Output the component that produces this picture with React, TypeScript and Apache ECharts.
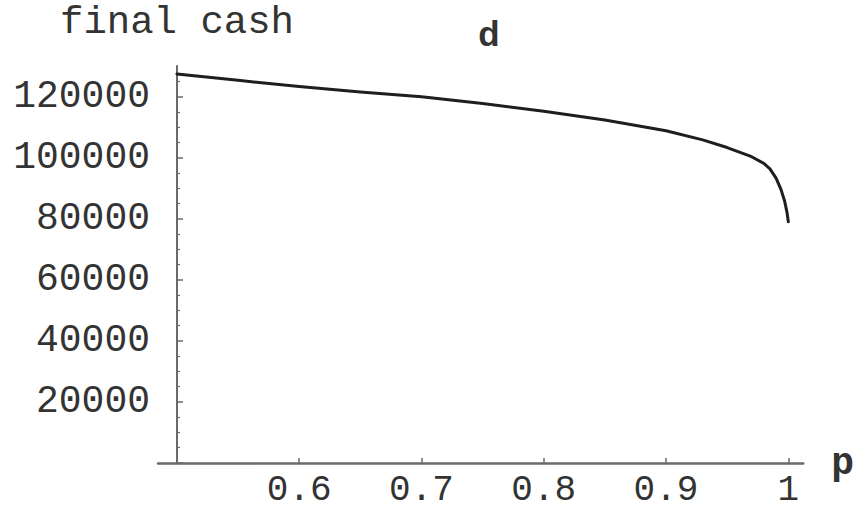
import React, { useEffect, useRef } from "react";
import * as echarts from "echarts";

// p values (x) and final cash (y)
const pValues = [0.5, 0.55, 0.6, 0.65, 0.7, 0.75, 0.8, 0.85, 0.9, 0.93, 0.95, 0.97, 0.98, 0.985, 0.99, 0.994, 0.997, 0.999, 1.0];
const cashValues = [127400, 125300, 123300, 121500, 119900, 117700, 115200, 112300, 108800, 105800, 103300, 100300, 98100, 96300, 93300, 89600, 85800, 82000, 79000];

const xTicks = [0.6, 0.7, 0.8, 0.9, 1];
const yMajorTicks = [0, 20000, 40000, 60000, 80000, 100000, 120000];
const yLabelTicks = [20000, 40000, 60000, 80000, 100000, 120000];
const yMinorTicks = [5000, 10000, 15000, 25000, 30000, 35000, 45000, 50000, 55000, 65000, 70000, 75000, 85000, 90000, 95000, 105000, 110000, 115000, 125000];

const MONO = "'Liberation Mono', 'DejaVu Sans Mono', monospace";
const AXIS_COLOR = "#6a6a6a";
const TEXT_COLOR = "#333";

export default function App() {
  const ref = useRef<HTMLDivElement>(null);
  useEffect(() => {
    if (!ref.current) return;
    const chart = echarts.init(ref.current, null, { renderer: "svg" });
    const data = pValues.map((p, i) => [p, cashValues[i]]);
    chart.setOption({
      animation: false,
      backgroundColor: "#fff",
      title: {
        text: "d",
        left: 484,
        top: 11,
        textAlign: "center",
        textStyle: { fontFamily: "'Liberation Sans', Arial, sans-serif", fontSize: 35, fontWeight: "bold", color: TEXT_COLOR },
      },
      grid: { left: 158, right: 52, top: 66, bottom: 47, containLabel: false },
      xAxis: {
        type: "value",
        min: 0.4845,
        max: 1.0122,
        name: "p",
        nameLocation: "end",
        nameGap: 28,
        nameTextStyle: { fontFamily: MONO, fontSize: 38, color: TEXT_COLOR, fontWeight: "bold", verticalAlign: "middle" },
        axisLine: { show: true, lineStyle: { color: AXIS_COLOR, width: 2.5 } },
        axisTick: { show: true, inside: true, length: 5, customValues: xTicks, lineStyle: { color: AXIS_COLOR, width: 1.5 } },
        axisLabel: {
          customValues: xTicks,
          margin: 9,
          lineHeight: 36,
          fontFamily: MONO,
          fontSize: 36,
          color: TEXT_COLOR,
          formatter: (v: number) => (Math.abs(v - 1) < 1e-9 ? "1" : v.toFixed(1)),
        },
        splitLine: { show: false },
      },
      yAxis: [
        {
          type: "value",
          min: 0,
          max: 130000,
          offset: -19,
          name: "final cash",
          nameLocation: "end",
          nameGap: 24,
          nameTextStyle: { fontFamily: MONO, fontSize: 39, color: TEXT_COLOR },
          axisLine: { show: true, lineStyle: { color: AXIS_COLOR, width: 2 } },
          axisTick: { show: true, inside: true, length: 6, customValues: yMajorTicks, lineStyle: { color: AXIS_COLOR, width: 1.5 } },
          axisLabel: {
            customValues: yLabelTicks,
            margin: 27,
            fontFamily: MONO,
            fontSize: 38,
            color: TEXT_COLOR,
            formatter: (v: number) => String(Math.round(v)),
          },
          splitLine: { show: false },
        },
        {
          type: "value",
          min: 0,
          max: 130000,
          offset: -19,
          position: "left",
          axisLine: { show: false },
          axisTick: { show: true, inside: true, length: 3, customValues: yMinorTicks, lineStyle: { color: AXIS_COLOR, width: 1.2 } },
          axisLabel: { show: false },
          splitLine: { show: false },
        },
      ],
      series: [
        {
          type: "line",
          data,
          xAxisIndex: 0,
          yAxisIndex: 0,
          showSymbol: false,
          symbol: "none",
          smooth: false,
          lineStyle: { color: "#1e1e1e", width: 3, join: "round", cap: "round" },
        },
      ],
    });
    return () => chart.dispose();
  }, []);
  return <div ref={ref} style={{ position: "fixed", left: 0, top: 0, width: 857, height: 510 }} />;
}
